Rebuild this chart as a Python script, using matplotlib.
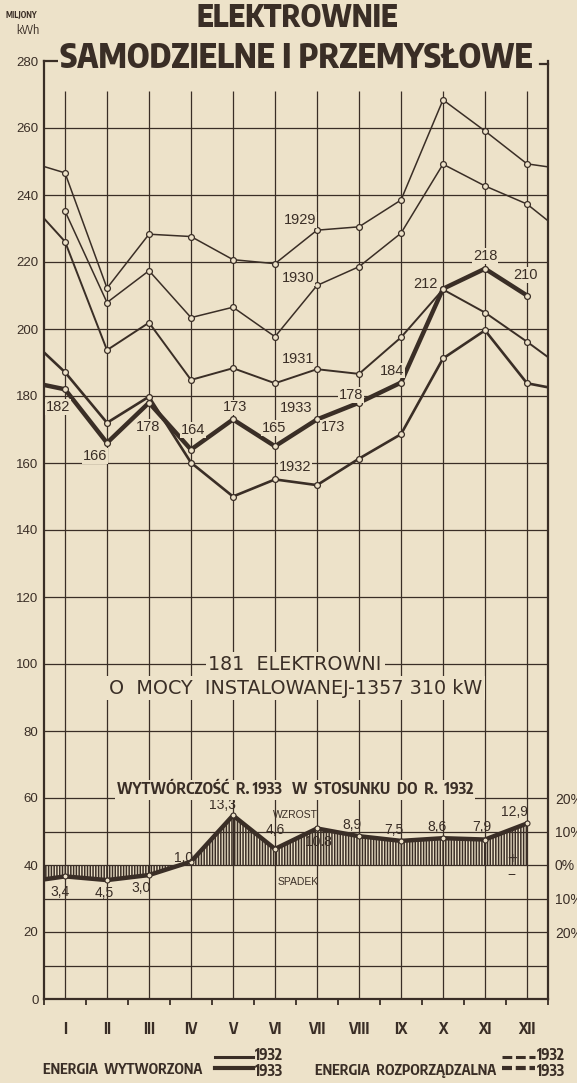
"""
Elektrownie samodzielne i przemyslowe - produkcja energii 1929-1933
Output: out.png
"""

import matplotlib
matplotlib.use("Agg")
import matplotlib.pyplot as plt
from matplotlib.lines import Line2D


# =========================
# Dane (mln kWh)
# =========================
MONTHS = ["I", "II", "III", "IV", "V", "VI", "VII", "VIII", "IX", "X", "XI", "XII"]
MONTH_NO = list(range(1, 13))
EDGE_START = 0.5   # ciąg od grudnia roku poprzedniego
EDGE_END = 12.5    # ciąg do stycznia roku następnego

Y1929 = [248.5, 246.6, 212.2, 228.3, 227.6, 220.7, 219.5, 229.5, 230.5, 238.5, 268.4, 259.1, 249.3, 248.4]
Y1930 = [235.2, 207.9, 217.4, 203.4, 206.5, 197.7, 213.0, 218.6, 228.6, 249.2, 242.7, 237.3, 232.3]
Y1931 = [233.0, 226.1, 193.7, 201.9, 184.8, 188.3, 183.8, 188.0, 186.6, 197.5, 211.8, 204.9, 196.2, 191.6]
Y1932 = [193.0, 187.1, 172.0, 179.8, 160.1, 150.0, 155.1, 153.4, 161.3, 168.6, 191.2, 199.6, 183.8, 182.6]
Y1933 = [183.3, 182, 166, 178, 164, 173, 165, 173, 178, 184, 212, 218, 210]

# wytwórczość 1933 w stosunku do 1932 (%), tak jak narysowano na wykresie
PCT_EDGE = -4.3
PCT_1933 = [-3.4, -4.5, -3.0, 1.0, 14.8, 4.8, 10.9, 8.6, 7.2, 8.0, 7.6, 12.4]
PCT_TEXT = ["3,4", "4,5", "3,0", "1,0", "13,3", "4,6", "10.8", "8,9", "7,5", "8,6", "7,9", "12,9"]
PCT_BASE = 40       # poziom 0% na osi głównej
PCT_TICKS = [20, 30, 40, 50, 60]
PCT_TICK_TEXT = ["20%", "10%", "0%", "10%", "20%"]

# =========================
# Styl
# =========================
BG = "#ede2c9"
INK = "#3a2e26"
NARROW = ["Encode Sans Condensed", "DejaVu Sans"]
SANS = ["Liberation Sans", "DejaVu Sans"]
PLAIN = ["DejaVu Sans"]

plt.rcParams["hatch.color"] = INK
plt.rcParams["hatch.linewidth"] = 1.1

W, H = 577, 1083
fig = plt.figure(figsize=(W / 100, H / 100), dpi=100, facecolor=BG)
ax = fig.add_axes([44 / W, 84 / H, 504 / W, 938 / H])
ax.set_facecolor(BG)
ax.set_xlim(EDGE_START, EDGE_END)
ax.set_ylim(0, 280)

lbl_box = dict(boxstyle="square,pad=0.06", fc=BG, ec="none")

# siatka
grid_y = [10, 30, 50] + list(range(20, 280, 20))
ax.hlines(grid_y, EDGE_START, EDGE_END, color=INK, lw=0.9, zorder=1)
ax.vlines(MONTH_NO, 0, 271, color=INK, lw=0.9, zorder=1)

# ramka
for side in ["left", "right", "bottom"]:
    ax.spines[side].set_color(INK)
    ax.spines[side].set_linewidth(1.6)
ax.spines["top"].set_visible(False)
ax.add_line(Line2D([0, 0.028], [1, 1], transform=ax.transAxes, color=INK, lw=1.6, clip_on=False))
ax.add_line(Line2D([0.985, 1], [0.997, 0.997], transform=ax.transAxes, color=INK, lw=1.6, clip_on=False))

# osie
ax.set_yticks(range(0, 281, 20))
ax.tick_params(axis="y", length=0, pad=4, labelsize=9.5, colors=INK)
for t in ax.get_yticklabels():
    t.set_fontfamily(SANS)
ax.set_xticks(MONTH_NO)
ax.set_xticklabels(MONTHS, fontfamily=NARROW, fontweight="bold", fontsize=11, color=INK)
ax.set_xticks([m + 0.5 for m in range(0, 13)], minor=True)
ax.tick_params(axis="x", which="major", length=0, pad=16)
ax.tick_params(axis="x", which="minor", length=4, width=1.3, color=INK, direction="out")

# =========================
# Linie lat
# =========================
full_x = [EDGE_START] + MONTH_NO + [EDGE_END]
mk = dict(marker="o", ms=4.2, mfc=BG, mec=INK, mew=0.9)

ax.plot(full_x, Y1929, color=INK, lw=1.1, markevery=slice(1, 13), zorder=3, **mk)
ax.plot(MONTH_NO + [EDGE_END], Y1930, color=INK, lw=1.1, markevery=slice(0, 12), zorder=3, **mk)
ax.plot(full_x, Y1931, color=INK, lw=1.4, markevery=slice(1, 13), zorder=3, **mk)
ax.plot(full_x, Y1932, color=INK, lw=1.9, markevery=slice(1, 13), zorder=4, **mk)
ax.plot([EDGE_START] + MONTH_NO, Y1933, color=INK, lw=3.2, markevery=slice(1, 13), zorder=5, **mk)

year_labels = [("1929", 6.6, 232.5), ("1930", 6.55, 215.3), ("1931", 6.55, 191.0),
               ("1933", 6.5, 176.3), ("1932", 6.48, 158.9)]
for txt, xx, yy in year_labels:
    ax.text(xx, yy, txt, ha="center", va="center", fontsize=10.5, fontfamily=SANS,
            color=INK, bbox=lbl_box, zorder=6)

# wartości 1933
off_1933 = [(-0.17, -5.2), (-0.28, -3.8), (-0.02, -7.2), (0.05, 5.9), (0.05, 3.6), (-0.02, 5.4),
            (0.38, -2.4), (-0.2, 2.3), (-0.22, 3.6), (-0.42, 1.3), (0.0, 3.9), (-0.03, 6.1)]
for m, v, (dx, dy) in zip(MONTH_NO, Y1933[1:], off_1933):
    ax.text(m + dx, v + dy, str(v), ha="center", va="center", fontsize=10.5,
            fontfamily=SANS, color=INK, bbox=lbl_box, zorder=6)

# opis środkowy
mid_box = dict(boxstyle="square,pad=0.15", fc=BG, ec="none")
ax.text(6.48, 100, "181  ELEKTROWNI", ha="center", va="center", fontsize=13.8,
        fontfamily=PLAIN, color=INK, bbox=mid_box, zorder=6)
ax.text(6.48, 92.8, "O  MOCY  INSTALOWANEJ-1357 310 kW", ha="center", va="center",
        fontsize=13.8, fontfamily=PLAIN, color=INK, bbox=mid_box, zorder=6)

# =========================
# Wykres procentowy
# =========================
pct_x = [EDGE_START] + MONTH_NO
pct_y = [PCT_BASE + p for p in [PCT_EDGE] + PCT_1933]
ax.fill_between(pct_x, PCT_BASE, pct_y, facecolor="none", edgecolor=INK, hatch="|" * 6,
                linewidth=0, zorder=2)
ax.plot(pct_x, pct_y, color=INK, lw=3.2, markevery=slice(1, 13), zorder=5,
        marker="o", ms=3.6, mfc=BG, mec=INK, mew=0.8)

off_pct = [(-0.11, -4.6), (-0.06, -4.0), (-0.18, -4.0), (-0.17, 1.0), (-0.24, 3.1), (0.0, 5.6),
           (0.03, -3.9), (-0.17, 3.2), (-0.17, 3.1), (-0.15, 3.4), (-0.08, 3.6), (-0.29, 3.4)]
for m, p, txt, (dx, dy) in zip(MONTH_NO, PCT_1933, PCT_TEXT, off_pct):
    ax.text(m + dx, PCT_BASE + p + dy, txt, ha="center", va="center", fontsize=10,
            fontfamily=SANS, color=INK, zorder=6)

ax.text(6.48, 62.4, "WYTWÓRCZOŚĆ  R. 1933   W  STOSUNKU  DO  R.  1932", ha="center", va="center",
        fontsize=11.4, fontweight="bold", fontfamily=NARROW, color=INK,
        bbox=dict(boxstyle="square,pad=0.12", fc=BG, ec="none"), zorder=6)
ax.text(6.48, 54.9, "WZROST", ha="center", va="center", fontsize=7.5, fontfamily=SANS,
        color=INK, zorder=6)
ax.text(6.54, 35.0, "SPADEK", ha="center", va="center", fontsize=7.5, fontfamily=SANS,
        color=INK, zorder=6)
ax.text(11.64, 42.0, "+", ha="center", va="center", fontsize=12, fontfamily=SANS, color=INK, zorder=6)
ax.text(11.64, 37.0, "−", ha="center", va="center", fontsize=10, fontfamily=SANS, color=INK, zorder=6)

ax2 = ax.twinx()
ax2.set_ylim(0, 280)
ax2.set_yticks(PCT_TICKS)
ax2.set_yticklabels(PCT_TICK_TEXT, fontfamily=SANS, fontsize=10, color=INK)
ax2.tick_params(axis="y", length=0, pad=5)
for s in ax2.spines.values():
    s.set_visible(False)

# =========================
# Tytuł i opisy
# =========================
fig.text(297 / W, 1 - 18 / H, "ELEKTROWNIE", ha="center", va="center", fontsize=22,
         fontweight=800, fontfamily=NARROW, color=INK)
fig.text(296 / W, 1 - 58 / H, "SAMODZIELNE I PRZEMYSŁOWE", ha="center", va="center",
         fontsize=24, fontweight=800, fontfamily=NARROW, color=INK,
         bbox=dict(boxstyle="square,pad=0.05", fc=BG, ec="none"))
fig.text(21 / W, 1 - 15 / H, "MILJONY", ha="center", va="center", fontsize=6,
         fontweight="bold", fontfamily=NARROW, color=INK)
fig.text(28 / W, 1 - 30 / H, "kWh", ha="center", va="center", fontsize=9,
         fontfamily=NARROW, color=INK)

# legenda
fig.text(43 / W, 1 - 1069 / H, "ENERGIA  WYTWORZONA", ha="left", va="center", fontsize=10.3,
         fontweight="bold", fontfamily=NARROW, color=INK)
fig.add_artist(Line2D([215 / W, 253 / W], [1 - 1057 / H] * 2, color=INK, lw=2.2))
fig.add_artist(Line2D([215 / W, 253 / W], [1 - 1068 / H] * 2, color=INK, lw=3.0))
fig.text(315 / W, 1 - 1070 / H, "ENERGIA  ROZPORZĄDZALNA", ha="left", va="center", fontsize=10.3,
         fontweight="bold", fontfamily=NARROW, color=INK)
fig.add_artist(Line2D([502 / W, 535 / W], [1 - 1057 / H] * 2, color=INK, lw=2.2,
                      linestyle=(0, (3.2, 1.2))))
fig.add_artist(Line2D([502 / W, 535 / W], [1 - 1068 / H] * 2, color=INK, lw=3.0,
                      linestyle=(0, (2.4, 0.9))))
for xx in [255, 537]:
    fig.text(xx / W, 1 - 1055 / H, "1932", ha="left", va="center", fontsize=11,
             fontweight="bold", fontfamily=NARROW, color=INK)
    fig.text(xx / W, 1 - 1071 / H, "1933", ha="left", va="center", fontsize=11,
             fontweight="bold", fontfamily=NARROW, color=INK)

fig.savefig("out.png", dpi=100, facecolor=BG)
